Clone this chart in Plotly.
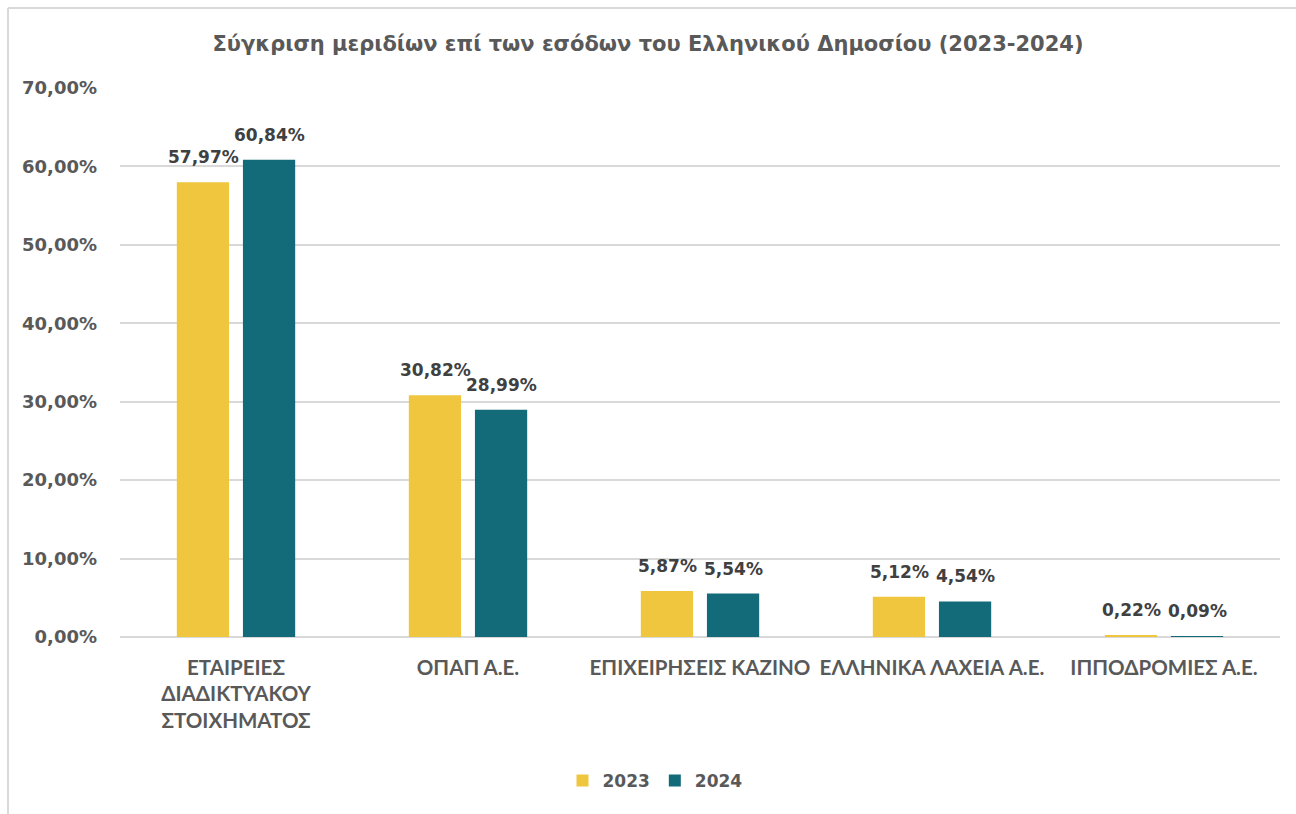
import plotly.graph_objects as go

categories = [
    "ΕΤΑΙΡΕΙΕΣ<br>ΔΙΑΔΙΚΤΥΑΚΟΥ<br>ΣΤΟΙΧΗΜΑΤΟΣ",
    "ΟΠΑΠ Α.Ε.",
    "ΕΠΙΧΕΙΡΗΣΕΙΣ ΚΑΖΙΝΟ",
    "ΕΛΛΗΝΙΚΑ ΛΑΧΕΙΑ Α.Ε.",
    "ΙΠΠΟΔΡΟΜΙΕΣ Α.Ε.",
]
values_2023 = [0.5797, 0.3082, 0.0587, 0.0512, 0.0022]
values_2024 = [0.6084, 0.2899, 0.0554, 0.0454, 0.0009]
series_names = ["2023", "2024"]
colors = ["#F0C63F", "#136B7A"]
title_text = "Σύγκριση μεριδίων επί των εσόδων του Ελληνικού Δημοσίου (2023-2024)"

W, H = 1296, 814
ml, mr, mt, mb = 120, 16, 88, 177

fig = go.Figure()
all_series = [values_2023, values_2024]
for name, vals, col in zip(series_names, all_series, colors):
    fig.add_trace(go.Bar(
        x=categories, y=vals, name=name,
        marker=dict(color=col, line=dict(width=0)),
        cliponaxis=False,
    ))

label_font = dict(family="DejaVu Sans", size=17, color="#404040", weight="bold")
annotations = []
xshifts = [-33, 33]
for vals, xs in zip(all_series, xshifts):
    for cat, v in zip(categories, vals):
        annotations.append(dict(
            x=cat, y=v, xref="x", yref="y",
            text=f"{v * 100:.2f}%".replace(".", ","),
            showarrow=False, xshift=xs, yshift=25,
            xanchor="center", yanchor="middle", font=label_font,
        ))

pw = W - ml - mr
ph = H - mt - mb
def px_x(p):
    return (p - ml) / pw
def px_y(p):
    return (H - mb - p) / ph

fig.update_layout(
    width=W, height=H,
    margin=dict(l=ml, r=mr, t=mt, b=mb),
    paper_bgcolor="white", plot_bgcolor="white",
    separators=",.",
    barmode="group", bargap=0.43, bargroupgap=0.21,
    title=dict(text=title_text, x=0.5, xanchor="center", y=1 - 44 / H, yanchor="middle",
               font=dict(family="DejaVu Sans", size=21, color="#595959", weight="bold")),
    legend=dict(orientation="h", x=px_x(655), xanchor="center", y=px_y(781), yanchor="middle",
                font=dict(family="DejaVu Sans", size=17, color="#595959", weight="bold"),
                itemwidth=30, traceorder="normal"),
    yaxis=dict(range=[0, 0.70], dtick=0.10, tickformat=".2%",
               showgrid=True, gridcolor="#D9D9D9", gridwidth=1.5,
               zeroline=True, zerolinecolor="#D9D9D9", zerolinewidth=2,
               showline=False, ticks="", ticklabelstandoff=22,
               tickfont=dict(family="DejaVu Sans", size=18, color="#595959", weight="bold")),
    xaxis=dict(showline=False, ticks="", showgrid=False,
               tickfont=dict(family="Lato", size=20.5, color="#595959", weight="bold"),
               tickangle=0, ticklabelstandoff=16),
    annotations=annotations,
    shapes=[
        dict(type="line", xref="paper", yref="paper", x0=px_x(8), x1=px_x(1296), y0=px_y(8), y1=px_y(8),
             line=dict(color="#D9D9D9", width=2)),
        dict(type="line", xref="paper", yref="paper", x0=px_x(8), x1=px_x(8), y0=px_y(8), y1=px_y(814),
             line=dict(color="#D9D9D9", width=2)),
    ],
)

fig.write_html("out.html", config={"displayModeBar": False},
               post_script="document.body.style.margin='0';document.body.style.overflow='hidden';")
